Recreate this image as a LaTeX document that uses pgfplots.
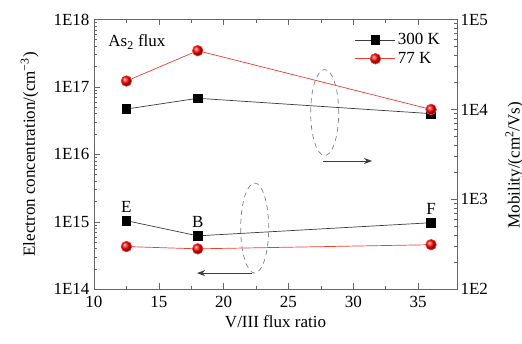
\documentclass[border=0pt]{standalone}
\usepackage{fontspec}
\setmainfont{Liberation Serif}
\usepackage{pgfplots}
\pgfplotsset{compat=1.18}
\usetikzlibrary{arrows.meta}
\definecolor{myred}{RGB}{238,62,50}
\definecolor{mygray}{RGB}{60,60,60}
\begin{document}
\begin{tikzpicture}[font=\fontsize{17}{20}\selectfont]
\useasboundingbox (-94pt,-53.7pt) rectangle (428pt,289.3pt);
\begin{axis}[
  scale only axis, width=363pt, height=269.8pt,
  at={(0pt,0pt)}, anchor=south west,
  xmin=10, xmax=38,
  ymode=log, ymin=1e14, ymax=1e18,
  xtick={10,15,20,25,30,35}, minor x tick num=1,
  ytick={1e14,1e15,1e16,1e17,1e18},
  yticklabels={1E14,1E15,1E16,1E17,1E18},
  xtick pos=both, ytick pos=left, xticklabel pos=bottom,
  tick align=inside,
  major tick length=6pt, minor tick length=3.5pt,
  /pgf/number format/assume math mode=true,
  xticklabel style={yshift=-3pt},
  yticklabel style={xshift=-1pt},
  axis line style={gray!80!black, line width=0.8pt},
  every tick/.style={gray!80!black, line width=0.6pt},
  xlabel={V/III flux ratio},
  ylabel={Electron concentration/(cm\textsuperscript{−3})},
  ylabel style={at={(rel axis cs:0,0.5)}, yshift=52pt},
  xlabel style={yshift=-1pt},
  legend style={draw=none, fill=none, at={(0.967,0.963)}, anchor=north east,
    row sep=2pt, font=\fontsize{17}{20}\selectfont},
  legend cell align=left,
  legend image code/.code={\draw[mark repeat=2,mark phase=2] plot coordinates {(0pt,0pt) (20pt,0pt) (40pt,0pt)};},
]
\addplot[mygray, line width=0.7pt, mark=square*, mark size=4.3pt, mark options={black, fill=black}]
  coordinates {(12.5,1.04e15) (18,6.2e14) (36,9.7e14)};
\addlegendentry{300 K}
\addplot[myred, line width=0.7pt, mark=ball, mark size=5.3pt, mark options={ball color=red}]
  coordinates {(12.5,4.3e14) (18,3.98e14) (36,4.58e14)};
\addlegendentry{77 K}
\node[above=5pt] at (axis cs:12.5,1.04e15) {E};
\node[above=5pt] at (axis cs:18,6.2e14) {B};
\node[above=5pt] at (axis cs:36,9.7e14) {F};
\node[anchor=west] at (rel axis cs:0.03,0.917) {As\textsubscript{2} flux};
\draw[gray, dash pattern=on 5pt off 4pt, line width=0.7pt] (rel axis cs:0.6355,0.655) ellipse [x radius=14pt, y radius=43pt];
\draw[gray, dash pattern=on 5pt off 4pt, line width=0.7pt] (rel axis cs:0.4427,0.227) ellipse [x radius=14pt, y radius=45pt];
\draw[mygray, line width=0.8pt, -{Stealth[length=8pt,width=6pt]}] (rel axis cs:0.631,0.4755) -- (rel axis cs:0.766,0.4755);
\draw[mygray, line width=0.8pt, -{Stealth[length=8pt,width=6pt]}] (rel axis cs:0.435,0.060) -- (rel axis cs:0.284,0.060);
\end{axis}
\begin{axis}[
  scale only axis, width=363pt, height=269.8pt,
  at={(0pt,0pt)}, anchor=south west,
  xmin=10, xmax=38,
  ymode=log, ymin=1e2, ymax=1e5,
  hide x axis,
  axis y line*=right,
  ytick={1e2,1e3,1e4,1e5},
  yticklabels={1E2,1E3,1E4,1E5},
  tick align=inside,
  major tick length=6pt, minor tick length=3.5pt,
  axis line style={gray!80!black, line width=0.8pt},
  every tick/.style={gray!80!black, line width=0.6pt},
  ylabel={Mobility/(cm\textsuperscript{2}/Vs)},
  ylabel style={at={(rel axis cs:1,0.46)}, yshift=-45pt},
]
\addplot[mygray, line width=0.7pt, mark=square*, mark size=4.3pt, mark options={black, fill=black}]
  coordinates {(12.5,1.01e4) (18,1.33e4) (36,8.98e3)};
\addplot[myred, line width=0.7pt, mark=ball, mark size=5.3pt, mark options={ball color=red}]
  coordinates {(12.5,2.07e4) (18,4.5e4) (36,1.0e4)};
\end{axis}
\end{tikzpicture}
\end{document}
